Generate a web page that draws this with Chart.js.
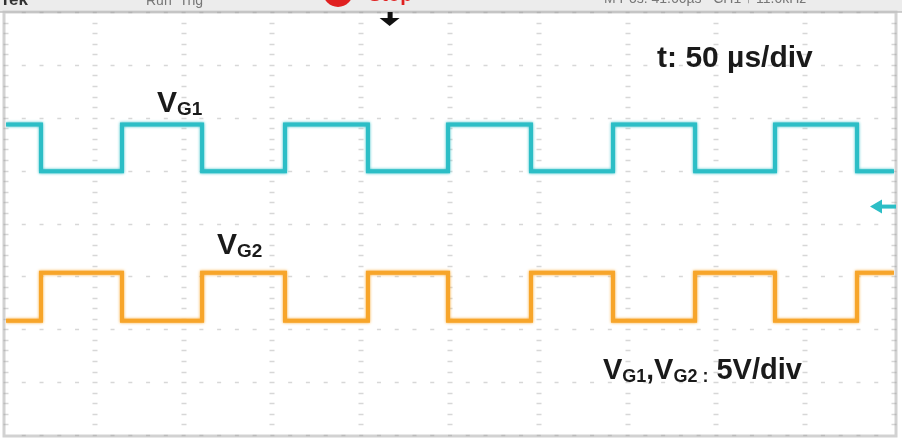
<!DOCTYPE html>
<html>
<head>
<meta charset="utf-8">
<title>VG1 / VG2 gate signals</title>
<script src="https://cdn.jsdelivr.net/npm/chart.js@4.4.0/dist/chart.umd.min.js"></script>
<style>
    html, body { margin: 0; padding: 0; background: #fff; }
    #wrap { position: relative; width: 902px; height: 439px; }
</style>
</head>
<body>
<div id="wrap"><canvas id="scope"></canvas></div>
<script>
'use strict';

// ─── Data (read off the capture) ─────────────────────────────
// time axis: 10 div x 50 µs, voltage axis: 8 div x 5 V
const T_MIN = 0, T_MAX = 500, T_DIV = 50;
const V_MIN = -20, V_MAX = 20, V_DIV = 5;

// switching instants in µs (VG1 falls first, then they alternate)
const EDGE_TIMES = [19.7, 65.3, 110.4, 157.1, 203.8, 248.9, 295.6, 341.8, 388.0, 433.0, 479.2];

// on-screen levels in V (channel offsets included): [high, low]
const VG1_LEVELS = [9.35, 4.95];
const VG2_LEVELS = [-4.65, -9.2];
const VG1_STARTS_HIGH = true;
const VG2_STARTS_HIGH = false;

const TRIGGER_T = 216;     // µs, black marker under the header
const CH_MARKER_V = 1.6;   // V, teal channel marker on the right edge

const TEAL = '#2cbec6';
const ORANGE = '#f7a52a';
const FONT = "'Liberation Sans', Arial, sans-serif";

function stepPoints(levels, startHigh) {
    let high = startHigh;
    const pts = [{ x: T_MIN, y: high ? levels[0] : levels[1] }];
    EDGE_TIMES.forEach(t => {
        high = !high;
        pts.push({ x: t, y: high ? levels[0] : levels[1] });
    });
    pts.push({ x: T_MAX, y: high ? levels[0] : levels[1] });
    return pts;
}

// ─── Scope chrome: header strip, graticule, markers ──────────
const scopeChrome = {
    id: 'scopeChrome',
    beforeDatasetsDraw(chart) {
        const { ctx, chartArea: a, scales: { x, y } } = chart;
        ctx.save();

        // header strip
        ctx.fillStyle = '#ececec';
        ctx.fillRect(0, 0, chart.width, a.top);

        // header readouts, mostly cut off by the top edge
        ctx.textBaseline = 'alphabetic';
        ctx.font = `bold 17px ${FONT}`;
        ctx.fillStyle = '#333';
        ctx.fillText('Tek', 0, 5);
        ctx.font = `14px ${FONT}`;
        ctx.fillStyle = '#777';
        ctx.fillText('Run  Trig', 146, 5);
        ctx.fillText('M Pos: 41.60µs   CH1 ↑ 11.0kHz', 604, 3);
        ctx.fillStyle = '#e02020';
        ctx.beginPath();
        ctx.arc(338, -8, 15, 0, Math.PI * 2);
        ctx.fill();
        ctx.font = `bold 20px ${FONT}`;
        ctx.fillText('Stop', 368, 1);

        // frame
        ctx.strokeStyle = '#d2d2d2';
        ctx.lineWidth = 3;
        ctx.strokeRect(a.left - 2, a.top, a.right - a.left + 4, a.bottom - a.top + 1);
        ctx.strokeStyle = '#c0c0c0';
        ctx.lineWidth = 1.5;
        ctx.beginPath();
        ctx.moveTo(0, a.top);
        ctx.lineTo(chart.width, a.top);
        ctx.stroke();

        // graticule: short dashes at every minor division along major lines
        ctx.strokeStyle = 'rgba(150,150,150,0.38)';
        ctx.lineWidth = 1.3;
        ctx.beginPath();
        for (let v = V_MIN; v <= V_MAX; v += V_DIV) {
            const py = Math.round(y.getPixelForValue(v)) + 0.5;
            for (let t = T_MIN + T_DIV / 5; t < T_MAX; t += T_DIV / 5) {
                const px = x.getPixelForValue(t);
                ctx.moveTo(px - 2, py);
                ctx.lineTo(px + 2, py);
            }
        }
        for (let t = T_MIN; t <= T_MAX; t += T_DIV) {
            const px = Math.round(x.getPixelForValue(t));
            for (let v = V_MIN + V_DIV / 5; v < V_MAX; v += V_DIV / 5) {
                const py = Math.round(y.getPixelForValue(v)) + 0.5;
                ctx.moveTo(px - 2.5, py);
                ctx.lineTo(px + 2.5, py);
            }
        }
        ctx.stroke();

        // trigger position marker
        const tx = x.getPixelForValue(TRIGGER_T);
        ctx.fillStyle = '#111';
        ctx.fillRect(tx - 2, a.top, 5, 7);
        ctx.beginPath();
        ctx.moveTo(tx - 10, a.top + 6);
        ctx.lineTo(tx + 10, a.top + 6);
        ctx.lineTo(tx, a.top + 14);
        ctx.closePath();
        ctx.fill();

        // channel marker on the right
        const my = y.getPixelForValue(CH_MARKER_V);
        ctx.fillStyle = TEAL;
        ctx.beginPath();
        ctx.moveTo(a.right - 24, my);
        ctx.lineTo(a.right - 12, my - 7);
        ctx.lineTo(a.right - 12, my + 7);
        ctx.closePath();
        ctx.fill();
        ctx.fillRect(a.right - 13, my - 2, 15, 4);

        ctx.restore();
    },
    // soft glow round the traces, like the phosphor display
    beforeDatasetDraw(chart, args) {
        const ctx = chart.ctx;
        ctx.save();
        ctx.shadowColor = args.meta.dataset.options.borderColor;
        ctx.shadowBlur = 3;
    },
    afterDatasetDraw(chart) {
        chart.ctx.restore();
    }
};

// ─── Annotations (placed in data units) ──────────────────────
const LABELS = [
    { t: 85, v: 10.5, parts: [['V', 30, 0], ['G1', 19, 3]] },
    { t: 118.8, v: -2.9, parts: [['V', 30, 0], ['G2', 19, 3]] },
    { t: 366.6, v: 14.8, parts: [['t: 50 µs/div', 30, 0]] },
    { t: 336.1, v: -14.7, parts: [['V', 29, 0], ['G1', 18, 3], [',', 28, 0], ['V', 29, 0], ['G2', 18, 3], [' :', 18, 3], [' 5V/div', 29, 0]] }
];

const scopeLabels = {
    id: 'scopeLabels',
    afterDatasetsDraw(chart) {
        const { ctx, scales: { x, y } } = chart;
        ctx.save();
        ctx.fillStyle = '#1a1a1a';
        ctx.textBaseline = 'alphabetic';
        LABELS.forEach(l => {
            let px = x.getPixelForValue(l.t);
            const py = y.getPixelForValue(l.v);
            l.parts.forEach(([text, size, dy]) => {
                ctx.font = `bold ${size}px ${FONT}`;
                ctx.fillText(text, px, py + dy);
                px += ctx.measureText(text).width;
            });
        });
        ctx.restore();
    }
};

new Chart(document.getElementById('scope'), {
    type: 'line',
    data: {
        datasets: [
            {
                label: 'VG1',
                data: stepPoints(VG1_LEVELS, VG1_STARTS_HIGH),
                borderColor: TEAL,
                borderWidth: 4,
                stepped: 'before',
                pointRadius: 0
            },
            {
                label: 'VG2',
                data: stepPoints(VG2_LEVELS, VG2_STARTS_HIGH),
                borderColor: ORANGE,
                borderWidth: 4,
                stepped: 'before',
                pointRadius: 0
            }
        ]
    },
    options: {
        responsive: true,
        maintainAspectRatio: false,
        animation: false,
        layout: { padding: { left: 6, right: 8, top: 12, bottom: 4 } },
        plugins: { legend: { display: false }, tooltip: { enabled: false } },
        scales: {
            x: { type: 'linear', min: T_MIN, max: T_MAX, display: false },
            y: { type: 'linear', min: V_MIN, max: V_MAX, display: false }
        }
    },
    plugins: [scopeChrome, scopeLabels]
});
</script>
</body>
</html>
